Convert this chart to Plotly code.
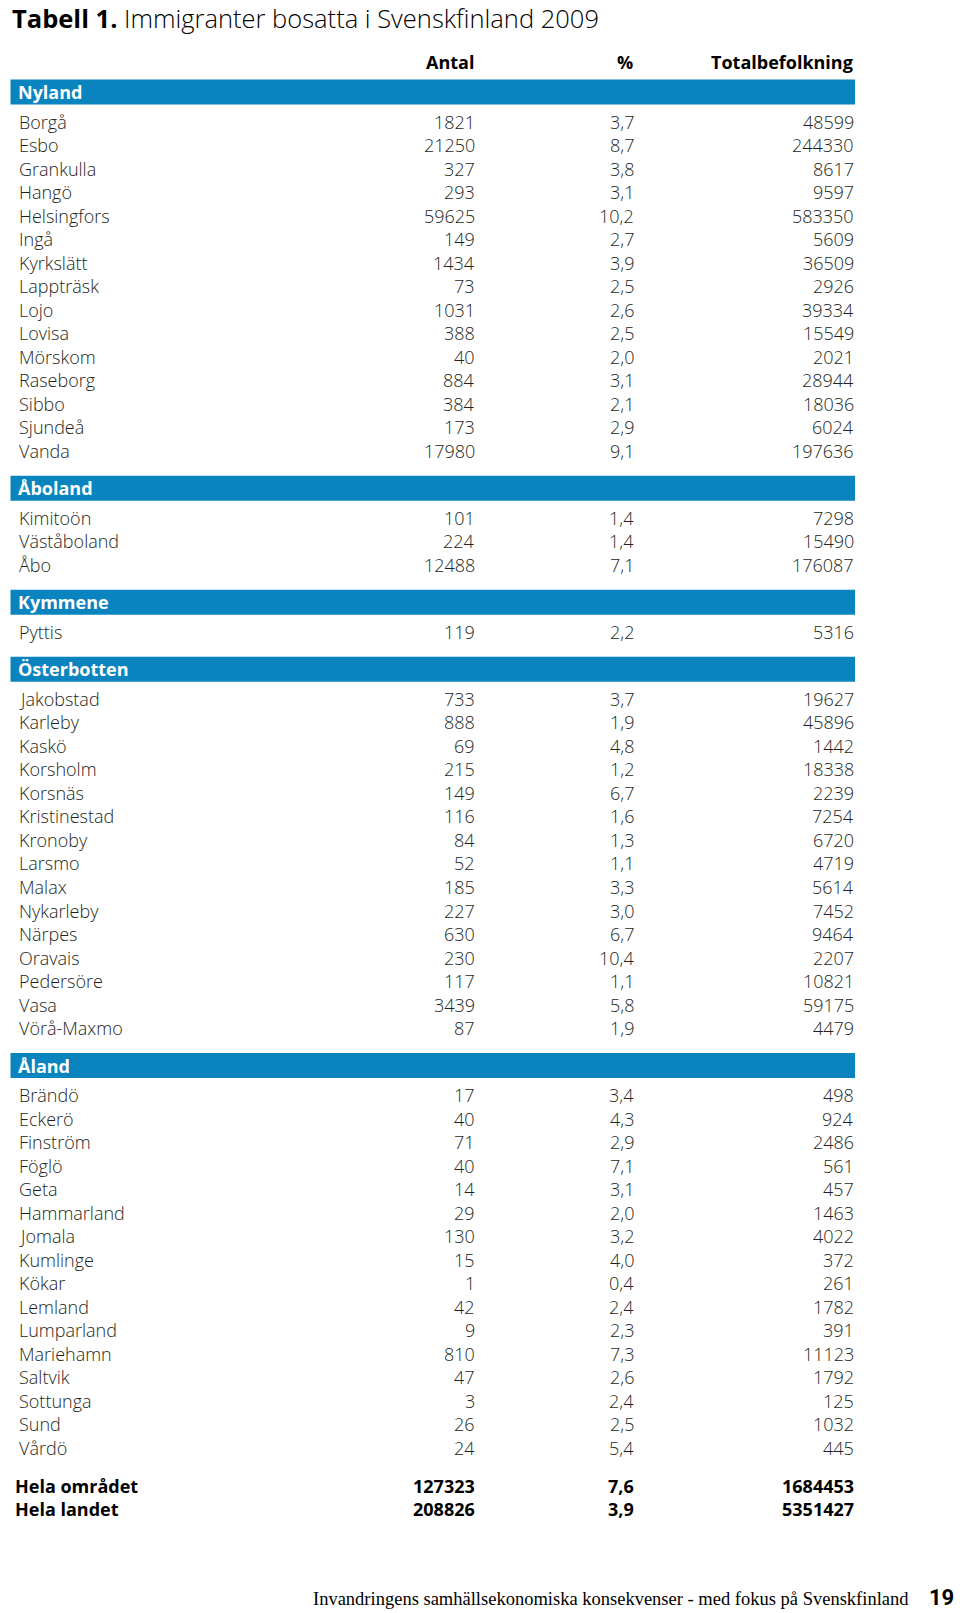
import plotly.graph_objects as go

# ---------------- data ----------------
regions = ["Nyland", "Åboland", "Kymmene", "Österbotten", "Åland"]

nyland_names = ["Borgå", "Esbo", "Grankulla", "Hangö", "Helsingfors", "Ingå", "Kyrkslätt",
                "Lappträsk", "Lojo", "Lovisa", "Mörskom", "Raseborg", "Sibbo", "Sjundeå", "Vanda"]
nyland_antal = [1821, 21250, 327, 293, 59625, 149, 1434, 73, 1031, 388, 40, 884, 384, 173, 17980]
nyland_pct = [3.7, 8.7, 3.8, 3.1, 10.2, 2.7, 3.9, 2.5, 2.6, 2.5, 2.0, 3.1, 2.1, 2.9, 9.1]
nyland_total = [48599, 244330, 8617, 9597, 583350, 5609, 36509, 2926, 39334, 15549, 2021,
                28944, 18036, 6024, 197636]

aboland_names = ["Kimitoön", "Väståboland", "Åbo"]
aboland_antal = [101, 224, 12488]
aboland_pct = [1.4, 1.4, 7.1]
aboland_total = [7298, 15490, 176087]

kymmene_names = ["Pyttis"]
kymmene_antal = [119]
kymmene_pct = [2.2]
kymmene_total = [5316]

osterbotten_names = ["Jakobstad", "Karleby", "Kaskö", "Korsholm", "Korsnäs", "Kristinestad",
                     "Kronoby", "Larsmo", "Malax", "Nykarleby", "Närpes", "Oravais",
                     "Pedersöre", "Vasa", "Vörå-Maxmo"]
osterbotten_antal = [733, 888, 69, 215, 149, 116, 84, 52, 185, 227, 630, 230, 117, 3439, 87]
osterbotten_pct = [3.7, 1.9, 4.8, 1.2, 6.7, 1.6, 1.3, 1.1, 3.3, 3.0, 6.7, 10.4, 1.1, 5.8, 1.9]
osterbotten_total = [19627, 45896, 1442, 18338, 2239, 7254, 6720, 4719, 5614, 7452, 9464,
                     2207, 10821, 59175, 4479]

aland_names = ["Brändö", "Eckerö", "Finström", "Föglö", "Geta", "Hammarland", "Jomala",
               "Kumlinge", "Kökar", "Lemland", "Lumparland", "Mariehamn", "Saltvik",
               "Sottunga", "Sund", "Vårdö"]
aland_antal = [17, 40, 71, 40, 14, 29, 130, 15, 1, 42, 9, 810, 47, 3, 26, 24]
aland_pct = [3.4, 4.3, 2.9, 7.1, 3.1, 2.0, 3.2, 4.0, 0.4, 2.4, 2.3, 7.3, 2.6, 2.4, 2.5, 5.4]
aland_total = [498, 924, 2486, 561, 457, 1463, 4022, 372, 261, 1782, 391, 11123, 1792,
               125, 1032, 445]

summary_names = ["Hela området", "Hela landet"]
summary_antal = [127323, 208826]
summary_pct = [7.6, 3.9]
summary_total = [1684453, 5351427]

columns = ["Antal", "%", "Totalbefolkning"]
title_bold = "Tabell 1."
title_rest = "Immigranter bosatta i Svenskfinland 2009"
footer_text = "Invandringens samhällsekonomiska konsekvenser - med fokus på Svenskfinland"
page_number = "19"

sections = [
    (regions[0], nyland_names, nyland_antal, nyland_pct, nyland_total),
    (regions[1], aboland_names, aboland_antal, aboland_pct, aboland_total),
    (regions[2], kymmene_names, kymmene_antal, kymmene_pct, kymmene_total),
    (regions[3], osterbotten_names, osterbotten_antal, osterbotten_pct, osterbotten_total),
    (regions[4], aland_names, aland_antal, aland_pct, aland_total),
]

# ---------------- layout constants ----------------
W, H = 960, 1610
BLUE = "#0a84bf"
TXT = "#231f20"
FONT = "Open Sans"
ROW = 23.52
X_NAME = 17
X_COLS = [476.5, 636, 855.5]
BAND_X0, BAND_X1 = 10.5, 855
BAND_H = 25


def fmt_pct(v):
    return f"{v:.1f}".replace(".", ",")


annotations = []
shapes = []


def txt(x, y, s, anchor="left", size=18, color=TXT, bold=False, family=FONT, weight=300):
    annotations.append(dict(
        x=x, y=y, xref="x", yref="y", text=f"<b>{s}</b>" if bold else s,
        showarrow=False, xanchor=anchor, yanchor="middle",
        font=dict(family=family, size=size, color=color,
                  weight=700 if bold else weight)))


# title
annotations.append(dict(
    x=10, y=17.5, xref="x", yref="y",
    text=f"<b>{title_bold}</b> {title_rest}", showarrow=False,
    xanchor="left", yanchor="middle",
    font=dict(family=FONT, size=25.5, color="#000000", weight=300)))

# header
for xc, c in zip(X_COLS, columns):
    txt(xc - 1, 62, c, anchor="right", size=18, bold=True, color="#000000")

y = 54.5  # so that first band center is 92
for region, names, antal, pct, total in sections:
    bc = y + 37.5
    shapes.append(dict(type="rect", xref="x", yref="y", x0=BAND_X0, x1=BAND_X1,
                       y0=bc - BAND_H / 2, y1=bc + BAND_H / 2,
                       fillcolor=BLUE, line=dict(width=0), layer="below"))
    txt(X_NAME - 1, bc, region, size=18, color="white", bold=True)
    y = bc + 29.5
    for i, (n, a, p, t) in enumerate(zip(names, antal, pct, total)):
        ry = y + i * ROW
        txt(X_NAME, ry, n)
        txt(X_COLS[0], ry, str(a), anchor="right")
        txt(X_COLS[1], ry, fmt_pct(p), anchor="right")
        txt(X_COLS[2], ry, str(t), anchor="right")
    y = y + (len(names) - 1) * ROW

y = y + 38
for i, (n, a, p, t) in enumerate(zip(summary_names, summary_antal, summary_pct, summary_total)):
    ry = y + i * ROW
    txt(X_NAME - 4, ry, n, bold=True, color="#000000")
    txt(X_COLS[0], ry, str(a), anchor="right", bold=True, color="#000000")
    txt(X_COLS[1], ry, fmt_pct(p), anchor="right", bold=True, color="#000000")
    txt(X_COLS[2], ry, str(t), anchor="right", bold=True, color="#000000")

# footer
annotations.append(dict(x=911, y=1599, xref="x", yref="y", text=footer_text,
                        showarrow=False, xanchor="right", yanchor="middle",
                        font=dict(family="Liberation Serif", size=18.5, color="#000000")))
annotations.append(dict(x=956, y=1597, xref="x", yref="y", text=f"<b>{page_number}</b>",
                        showarrow=False, xanchor="right", yanchor="middle",
                        font=dict(family="Roboto", size=22, color="#000000", weight=700)))

fig = go.Figure()
fig.update_layout(
    width=W, height=H, margin=dict(l=0, r=0, t=0, b=0),
    paper_bgcolor="white", plot_bgcolor="white",
    xaxis=dict(range=[0, W], visible=False, fixedrange=True),
    yaxis=dict(range=[H, 0], visible=False, fixedrange=True),
    annotations=annotations, shapes=shapes, showlegend=False,
)
fig.write_html(
    "out.html",
    config={"displayModeBar": False},
    post_script="document.body.style.margin='0';document.body.style.overflow='hidden';",
)
